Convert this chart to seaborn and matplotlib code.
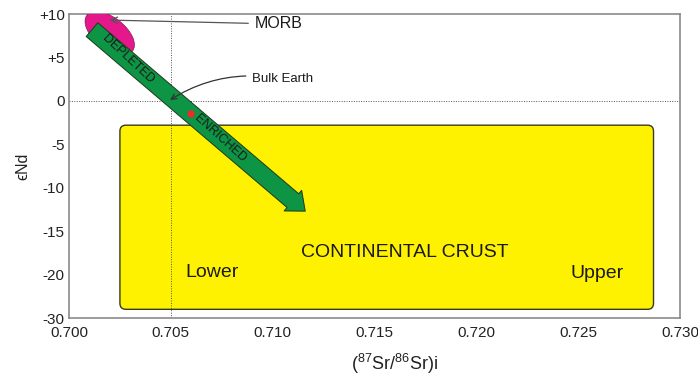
import matplotlib
matplotlib.use("Agg")
import matplotlib.pyplot as plt
import pandas as pd
import seaborn as sns
from matplotlib.patches import FancyBboxPatch, Ellipse
from matplotlib.transforms import ScaledTranslation

# Axis ticks
x_ticks = [0.700, 0.705, 0.710, 0.715, 0.720, 0.725, 0.730]
x_tick_labels = ["0.700", "0.705", "0.710", "0.715", "0.720", "0.725", "0.730"]
y_ticks = [10, 5, 0, -5, -10, -15, -20, -25]
y_tick_labels = ["+10", "+5", "0", "-5", "-10", "-15", "-20", "-30"]

# Continental crust field (Sr ratio range, eNd range)
crust_sr = [0.7025, 0.7287]
crust_nd = [-24.0, -2.8]

# Mantle array: depleted -> enriched (tail, tip)
mantle_sr = [0.70113, 0.7116]
mantle_nd = [8.2, -12.7]

# MORB field centre
morb_sr, morb_nd = 0.7020, 7.8

# Bulk Earth reference
bulk_sr, bulk_nd = 0.7050, 0.0

# Sample point
sample = pd.DataFrame({"sr": [0.7060], "nd": [-1.5]})

sns.set_theme(style="white")
plt.rcParams["font.family"] = ["Liberation Sans", "DejaVu Sans"]
plt.rcParams["mathtext.fontset"] = "custom"
plt.rcParams["mathtext.rm"] = "Liberation Sans"

fig = plt.figure(figsize=(6.98, 3.78), dpi=100)
ax = fig.add_axes([69 / 698, 1 - 318 / 378, 611 / 698, 304 / 378])

ax.set_xlim(0.700, 0.730)
ax.set_ylim(-25, 10)

# Reference lines through Bulk Earth
ax.axvline(bulk_sr, color="#555555", lw=0.7, ls=(0, (1, 1.5)), zorder=2)
ax.axhline(bulk_nd, color="#555555", lw=0.7, ls=(0, (1, 1.5)), zorder=2)

# Continental crust box with rounded corners
px_x = 0.030 / 611
px_y = 35 / 304
crust = FancyBboxPatch(
    (crust_sr[0], crust_nd[0]), crust_sr[1] - crust_sr[0], crust_nd[1] - crust_nd[0],
    boxstyle=f"round,pad=0,rounding_size={6 * px_x}",
    mutation_aspect=px_y / px_x,
    fc="#fff200", ec="#3a3a1a", lw=1.0, zorder=1,
)
ax.add_patch(crust)

# MORB field, sized in inches about its data-space centre
morb = Ellipse((0, 0), 0.58, 0.31, angle=-38,
               transform=fig.dpi_scale_trans + ScaledTranslation(morb_sr, morb_nd, ax.transData),
               fc="#e5188b", ec="#6a1040", lw=0.4, zorder=3)
ax.add_patch(morb)

# Mantle array arrow
ax.annotate("", xy=(mantle_sr[1], mantle_nd[1]), xytext=(mantle_sr[0], mantle_nd[0]),
            arrowprops=dict(arrowstyle="simple,head_length=0.9,head_width=1.5,tail_width=1.0",
                            mutation_scale=13, fc="#0d9444", ec="#1c3a1c", lw=0.7,
                            shrinkA=0, shrinkB=0),
            zorder=4)

sns.scatterplot(data=sample, x="sr", y="nd", ax=ax, color="#ee2a2a", s=28,
                edgecolor="none", zorder=5, legend=False)

ax.text(0.70290, 4.8, "DEPLETED", rotation=-43, fontsize=9, color="#1a1a1a",
        ha="center", va="center", zorder=6)
ax.text(0.70740, -4.3, "ENRICHED", rotation=-42, fontsize=9, color="#1a1a1a",
        ha="center", va="center", zorder=6)

# MORB label
ax.annotate("MORB", xy=(0.70200, 9.3), xytext=(0.7091, 8.85), fontsize=11.5, color="#1a1a1a",
            ha="left", va="center",
            arrowprops=dict(arrowstyle="->", color="#555555", lw=0.9, shrinkA=2, shrinkB=0),
            zorder=6)

# Bulk Earth label
ax.annotate("Bulk Earth", xy=(0.70496, 0.1), xytext=(0.70898, 2.5), fontsize=9.5,
            color="#1a1a1a", ha="left", va="center",
            arrowprops=dict(arrowstyle="->", color="#333333", lw=0.9, shrinkA=2, shrinkB=0,
                            connectionstyle="arc3,rad=0.2"),
            zorder=6)

ax.text(0.7165, -17.5, "CONTINENTAL CRUST", fontsize=14, color="#1a1a1a",
        ha="center", va="center", zorder=6)
ax.text(0.7070, -19.8, "Lower", fontsize=14, color="#1a1a1a", ha="center", va="center", zorder=6)
ax.text(0.72592, -19.9, "Upper", fontsize=14, color="#1a1a1a", ha="center", va="center", zorder=6)

ax.set_xticks(x_ticks)
ax.set_xticklabels(x_tick_labels)
ax.set_yticks(y_ticks)
ax.set_yticklabels(y_tick_labels)
ax.tick_params(axis="both", direction="in", length=7, width=1, color="#888888",
               labelsize=11, labelcolor="#222222")
ax.tick_params(axis="x", pad=6)
ax.tick_params(axis="y", pad=3)

for s in ax.spines.values():
    s.set_color("#8a8a8a")
    s.set_linewidth(1.2)

ax.set_ylabel("ϵNd", fontsize=11.5, color="#222222", labelpad=6)
ax.set_xlabel(r"($\mathregular{^{87}}$Sr/$\mathregular{^{86}}$Sr)i", fontsize=13,
              color="#222222")
ax.xaxis.set_label_coords((395 - 69) / 611, -0.112)

fig.savefig("out.png", dpi=100)
